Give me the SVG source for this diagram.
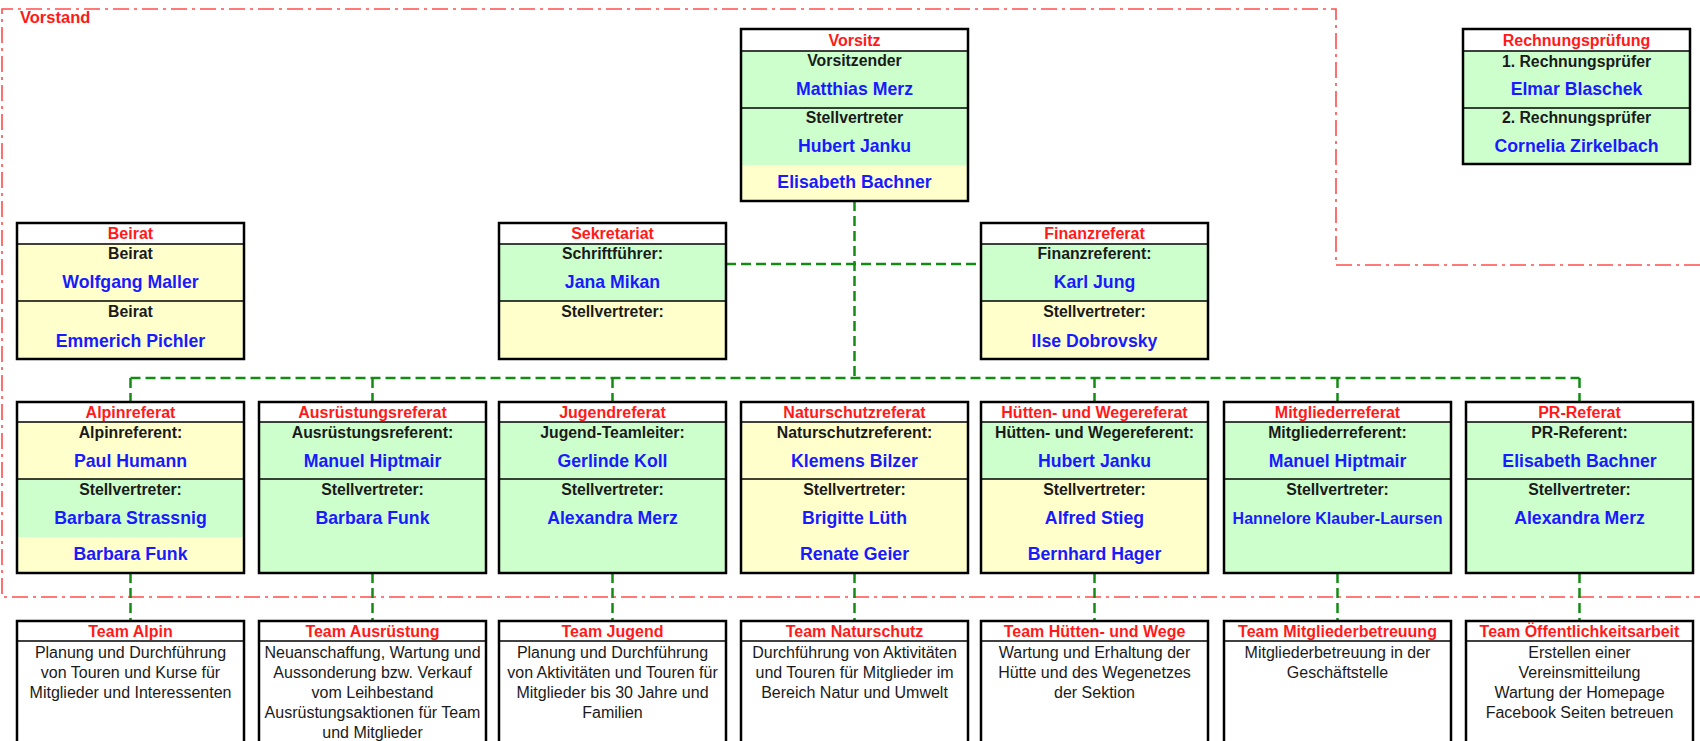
<svg xmlns="http://www.w3.org/2000/svg" width="1700" height="741" viewBox="0 0 1700 741">
<style>
text{font-family:"Liberation Sans",Arial,sans-serif;text-anchor:middle}
.hd{font-weight:bold;font-size:16px;fill:#ff1a1a}
.rl{font-weight:bold;font-size:15.8px;fill:#1a1a1a}
.nm{font-weight:bold;font-size:17.7px;fill:#1a1aff}
.sm{font-weight:bold;font-size:16px;fill:#1a1aff}
.ds{font-size:16px;fill:#1a1a1a}
.g{fill:#ccffcc}
.y{fill:#ffffcc}
.w{fill:#ffffff}
.fr{fill:none;stroke:#000;stroke-width:2.5}
.dv{stroke:#000;stroke-width:1.5}
.conn{fill:none;stroke:#148c14;stroke-width:2.5;stroke-dasharray:10 5}
.vs{fill:none;stroke:#ff4d4d;stroke-width:1.6;stroke-dasharray:16 5 3 5}
.vst{font-weight:bold;font-size:16.5px;fill:#ff1a1a;text-anchor:start}
</style>
<rect width="1700" height="741" fill="#ffffff"/>

<g id="vorstand">
<path class="vs" d="M1700,265 H1336 V9 H2 V597 H1700"/>
<text class="vst" x="20" y="23">Vorstand</text>
</g>

<g id="connectors">
<path class="conn" d="M854.5,201 V378"/>
<path class="conn" d="M726,264 H981"/>
<path class="conn" d="M130.5,378 H1579.5"/>
<path class="conn" d="M130.5,378 V402 M372.5,378 V402 M612.5,378 V402 M1094.5,378 V402 M1337.5,378 V402 M1579.5,378 V402"/>
<path class="conn" d="M130.5,573 V621 M372.5,573 V621 M612.5,573 V621 M854.5,573 V621 M1094.5,573 V621 M1337.5,573 V621 M1579.5,573 V621"/>
</g>

<g id="vorsitz">
<rect class="w" x="741" y="29" width="227" height="22"/>
<rect class="g" x="741" y="51" width="227" height="114"/>
<rect class="y" x="741" y="165" width="227" height="36"/>
<line class="dv" x1="741" y1="51" x2="968" y2="51"/>
<line class="dv" x1="741" y1="108" x2="968" y2="108"/>
<rect class="fr" x="741" y="29" width="227" height="172"/>
<text class="hd" x="854.5" y="45.5">Vorsitz</text>
<text class="rl" x="854.5" y="66">Vorsitzender</text>
<text class="nm" x="854.5" y="95">Matthias Merz</text>
<text class="rl" x="854.5" y="122.5">Stellvertreter</text>
<text class="nm" x="854.5" y="151.5">Hubert Janku</text>
<text class="nm" x="854.5" y="188">Elisabeth Bachner</text>
</g>

<g id="rechnungspruefung">
<rect class="w" x="1463" y="29" width="227" height="22"/>
<rect class="g" x="1463" y="51" width="227" height="113"/>
<line class="dv" x1="1463" y1="51" x2="1690" y2="51"/>
<line class="dv" x1="1463" y1="108" x2="1690" y2="108"/>
<rect class="fr" x="1463" y="29" width="227" height="135"/>
<text class="hd" x="1576.5" y="45.5">Rechnungsprüfung</text>
<text class="rl" x="1576.5" y="67">1. Rechnungsprüfer</text>
<text class="nm" x="1576.5" y="95">Elmar Blaschek</text>
<text class="rl" x="1576.5" y="123">2. Rechnungsprüfer</text>
<text class="nm" x="1576.5" y="152">Cornelia Zirkelbach</text>
</g>

<g id="beirat">
<rect class="w" x="17" y="223" width="227" height="21"/>
<rect class="y" x="17" y="244" width="227" height="115"/>
<line class="dv" x1="17" y1="244" x2="244" y2="244"/>
<line class="dv" x1="17" y1="301" x2="244" y2="301"/>
<rect class="fr" x="17" y="223" width="227" height="136"/>
<text class="hd" x="130.5" y="238.5">Beirat</text>
<text class="rl" x="130.5" y="259">Beirat</text>
<text class="nm" x="130.5" y="288">Wolfgang Maller</text>
<text class="rl" x="130.5" y="317">Beirat</text>
<text class="nm" x="130.5" y="347">Emmerich Pichler</text>
</g>

<g id="sekretariat">
<rect class="w" x="499" y="223" width="227" height="21"/>
<rect class="g" x="499" y="244" width="227" height="57"/>
<rect class="y" x="499" y="301" width="227" height="58"/>
<line class="dv" x1="499" y1="244" x2="726" y2="244"/>
<line class="dv" x1="499" y1="301" x2="726" y2="301"/>
<rect class="fr" x="499" y="223" width="227" height="136"/>
<text class="hd" x="612.5" y="238.5">Sekretariat</text>
<text class="rl" x="612.5" y="259">Schriftführer:</text>
<text class="nm" x="612.5" y="288">Jana Mikan</text>
<text class="rl" x="612.5" y="317">Stellvertreter:</text>
</g>

<g id="finanzreferat">
<rect class="w" x="981" y="223" width="227" height="21"/>
<rect class="g" x="981" y="244" width="227" height="57"/>
<rect class="y" x="981" y="301" width="227" height="58"/>
<line class="dv" x1="981" y1="244" x2="1208" y2="244"/>
<line class="dv" x1="981" y1="301" x2="1208" y2="301"/>
<rect class="fr" x="981" y="223" width="227" height="136"/>
<text class="hd" x="1094.5" y="238.5">Finanzreferat</text>
<text class="rl" x="1094.5" y="259">Finanzreferent:</text>
<text class="nm" x="1094.5" y="288">Karl Jung</text>
<text class="rl" x="1094.5" y="317">Stellvertreter:</text>
<text class="nm" x="1094.5" y="347">Ilse Dobrovsky</text>
</g>

<g id="alpinreferat">
<rect class="w" x="17" y="402" width="227" height="20"/>
<rect class="y" x="17" y="422" width="227" height="57"/>
<rect class="g" x="17" y="479" width="227" height="58"/>
<rect class="y" x="17" y="537" width="227" height="36"/>
<line class="dv" x1="17" y1="422" x2="244" y2="422"/>
<line class="dv" x1="17" y1="479" x2="244" y2="479"/>
<rect class="fr" x="17" y="402" width="227" height="171"/>
<text class="hd" x="130.5" y="417.5">Alpinreferat</text>
<text class="rl" x="130.5" y="438">Alpinreferent:</text>
<text class="nm" x="130.5" y="467">Paul Humann</text>
<text class="rl" x="130.5" y="495">Stellvertreter:</text>
<text class="nm" x="130.5" y="523.5">Barbara Strassnig</text>
<text class="nm" x="130.5" y="560">Barbara Funk</text>
</g>

<g id="ausruestungsreferat">
<rect class="w" x="259" y="402" width="227" height="20"/>
<rect class="g" x="259" y="422" width="227" height="151"/>
<line class="dv" x1="259" y1="422" x2="486" y2="422"/>
<line class="dv" x1="259" y1="479" x2="486" y2="479"/>
<rect class="fr" x="259" y="402" width="227" height="171"/>
<text class="hd" x="372.5" y="417.5">Ausrüstungsreferat</text>
<text class="rl" x="372.5" y="438">Ausrüstungsreferent:</text>
<text class="nm" x="372.5" y="467">Manuel Hiptmair</text>
<text class="rl" x="372.5" y="495">Stellvertreter:</text>
<text class="nm" x="372.5" y="523.5">Barbara Funk</text>
</g>

<g id="jugendreferat">
<rect class="w" x="499" y="402" width="227" height="20"/>
<rect class="g" x="499" y="422" width="227" height="151"/>
<line class="dv" x1="499" y1="422" x2="726" y2="422"/>
<line class="dv" x1="499" y1="479" x2="726" y2="479"/>
<rect class="fr" x="499" y="402" width="227" height="171"/>
<text class="hd" x="612.5" y="417.5">Jugendreferat</text>
<text class="rl" x="612.5" y="438">Jugend-Teamleiter:</text>
<text class="nm" x="612.5" y="467">Gerlinde Koll</text>
<text class="rl" x="612.5" y="495">Stellvertreter:</text>
<text class="nm" x="612.5" y="523.5">Alexandra Merz</text>
</g>

<g id="naturschutzreferat">
<rect class="w" x="741" y="402" width="227" height="20"/>
<rect class="y" x="741" y="422" width="227" height="151"/>
<line class="dv" x1="741" y1="422" x2="968" y2="422"/>
<line class="dv" x1="741" y1="479" x2="968" y2="479"/>
<rect class="fr" x="741" y="402" width="227" height="171"/>
<text class="hd" x="854.5" y="417.5">Naturschutzreferat</text>
<text class="rl" x="854.5" y="438">Naturschutzreferent:</text>
<text class="nm" x="854.5" y="467">Klemens Bilzer</text>
<text class="rl" x="854.5" y="495">Stellvertreter:</text>
<text class="nm" x="854.5" y="523.5">Brigitte Lüth</text>
<text class="nm" x="854.5" y="560">Renate Geier</text>
</g>

<g id="huettenreferat">
<rect class="w" x="981" y="402" width="227" height="20"/>
<rect class="g" x="981" y="422" width="227" height="57"/>
<rect class="y" x="981" y="479" width="227" height="94"/>
<line class="dv" x1="981" y1="422" x2="1208" y2="422"/>
<line class="dv" x1="981" y1="479" x2="1208" y2="479"/>
<rect class="fr" x="981" y="402" width="227" height="171"/>
<text class="hd" x="1094.5" y="417.5">Hütten- und Wegereferat</text>
<text class="rl" x="1094.5" y="438">Hütten- und Wegereferent:</text>
<text class="nm" x="1094.5" y="467">Hubert Janku</text>
<text class="rl" x="1094.5" y="495">Stellvertreter:</text>
<text class="nm" x="1094.5" y="523.5">Alfred Stieg</text>
<text class="nm" x="1094.5" y="560">Bernhard Hager</text>
</g>

<g id="mitgliederreferat">
<rect class="w" x="1224" y="402" width="227" height="20"/>
<rect class="g" x="1224" y="422" width="227" height="151"/>
<line class="dv" x1="1224" y1="422" x2="1451" y2="422"/>
<line class="dv" x1="1224" y1="479" x2="1451" y2="479"/>
<rect class="fr" x="1224" y="402" width="227" height="171"/>
<text class="hd" x="1337.5" y="417.5">Mitgliederreferat</text>
<text class="rl" x="1337.5" y="438">Mitgliederreferent:</text>
<text class="nm" x="1337.5" y="467">Manuel Hiptmair</text>
<text class="rl" x="1337.5" y="495">Stellvertreter:</text>
<text class="sm" x="1337.5" y="523.5">Hannelore Klauber-Laursen</text>
</g>

<g id="prreferat">
<rect class="w" x="1466" y="402" width="227" height="20"/>
<rect class="g" x="1466" y="422" width="227" height="151"/>
<line class="dv" x1="1466" y1="422" x2="1693" y2="422"/>
<line class="dv" x1="1466" y1="479" x2="1693" y2="479"/>
<rect class="fr" x="1466" y="402" width="227" height="171"/>
<text class="hd" x="1579.5" y="417.5">PR-Referat</text>
<text class="rl" x="1579.5" y="438">PR-Referent:</text>
<text class="nm" x="1579.5" y="467">Elisabeth Bachner</text>
<text class="rl" x="1579.5" y="495">Stellvertreter:</text>
<text class="nm" x="1579.5" y="523.5">Alexandra Merz</text>
</g>

<g id="team-alpin">
<rect class="w" x="17" y="621" width="227" height="140"/>
<line class="dv" x1="17" y1="641" x2="244" y2="641"/>
<rect class="fr" x="17" y="621" width="227" height="140"/>
<text class="hd" x="130.5" y="637">Team Alpin</text>
<text class="ds" x="130.5" y="658">Planung und Durchführung</text>
<text class="ds" x="130.5" y="678">von Touren und Kurse für</text>
<text class="ds" x="130.5" y="698">Mitglieder und Interessenten</text>
</g>

<g id="team-ausruestung">
<rect class="w" x="259" y="621" width="227" height="140"/>
<line class="dv" x1="259" y1="641" x2="486" y2="641"/>
<rect class="fr" x="259" y="621" width="227" height="140"/>
<text class="hd" x="372.5" y="637">Team Ausrüstung</text>
<text class="ds" x="372.5" y="658">Neuanschaffung, Wartung und</text>
<text class="ds" x="372.5" y="678">Aussonderung bzw. Verkauf</text>
<text class="ds" x="372.5" y="698">vom Leihbestand</text>
<text class="ds" x="372.5" y="718">Ausrüstungsaktionen für Team</text>
<text class="ds" x="372.5" y="738">und Mitglieder</text>
</g>

<g id="team-jugend">
<rect class="w" x="499" y="621" width="227" height="140"/>
<line class="dv" x1="499" y1="641" x2="726" y2="641"/>
<rect class="fr" x="499" y="621" width="227" height="140"/>
<text class="hd" x="612.5" y="637">Team Jugend</text>
<text class="ds" x="612.5" y="658">Planung und Durchführung</text>
<text class="ds" x="612.5" y="678">von Aktivitäten und Touren für</text>
<text class="ds" x="612.5" y="698">Mitglieder bis 30 Jahre und</text>
<text class="ds" x="612.5" y="718">Familien</text>
</g>

<g id="team-naturschutz">
<rect class="w" x="741" y="621" width="227" height="140"/>
<line class="dv" x1="741" y1="641" x2="968" y2="641"/>
<rect class="fr" x="741" y="621" width="227" height="140"/>
<text class="hd" x="854.5" y="637">Team Naturschutz</text>
<text class="ds" x="854.5" y="658">Durchführung von Aktivitäten</text>
<text class="ds" x="854.5" y="678">und Touren für Mitglieder im</text>
<text class="ds" x="854.5" y="698">Bereich Natur und Umwelt</text>
</g>

<g id="team-huetten">
<rect class="w" x="981" y="621" width="227" height="140"/>
<line class="dv" x1="981" y1="641" x2="1208" y2="641"/>
<rect class="fr" x="981" y="621" width="227" height="140"/>
<text class="hd" x="1094.5" y="637">Team Hütten- und Wege</text>
<text class="ds" x="1094.5" y="658">Wartung und Erhaltung der</text>
<text class="ds" x="1094.5" y="678">Hütte und des Wegenetzes</text>
<text class="ds" x="1094.5" y="698">der Sektion</text>
</g>

<g id="team-mitglieder">
<rect class="w" x="1224" y="621" width="227" height="140"/>
<line class="dv" x1="1224" y1="641" x2="1451" y2="641"/>
<rect class="fr" x="1224" y="621" width="227" height="140"/>
<text class="hd" x="1337.5" y="637">Team Mitgliederbetreuung</text>
<text class="ds" x="1337.5" y="658">Mitgliederbetreuung in der</text>
<text class="ds" x="1337.5" y="678">Geschäftstelle</text>
</g>

<g id="team-oeffentlichkeit">
<rect class="w" x="1466" y="621" width="227" height="140"/>
<line class="dv" x1="1466" y1="641" x2="1693" y2="641"/>
<rect class="fr" x="1466" y="621" width="227" height="140"/>
<text class="hd" x="1579.5" y="637">Team Öffentlichkeitsarbeit</text>
<text class="ds" x="1579.5" y="658">Erstellen einer</text>
<text class="ds" x="1579.5" y="678">Vereinsmitteilung</text>
<text class="ds" x="1579.5" y="698">Wartung der Homepage</text>
<text class="ds" x="1579.5" y="718">Facebook Seiten betreuen</text>
</g>
</svg>
